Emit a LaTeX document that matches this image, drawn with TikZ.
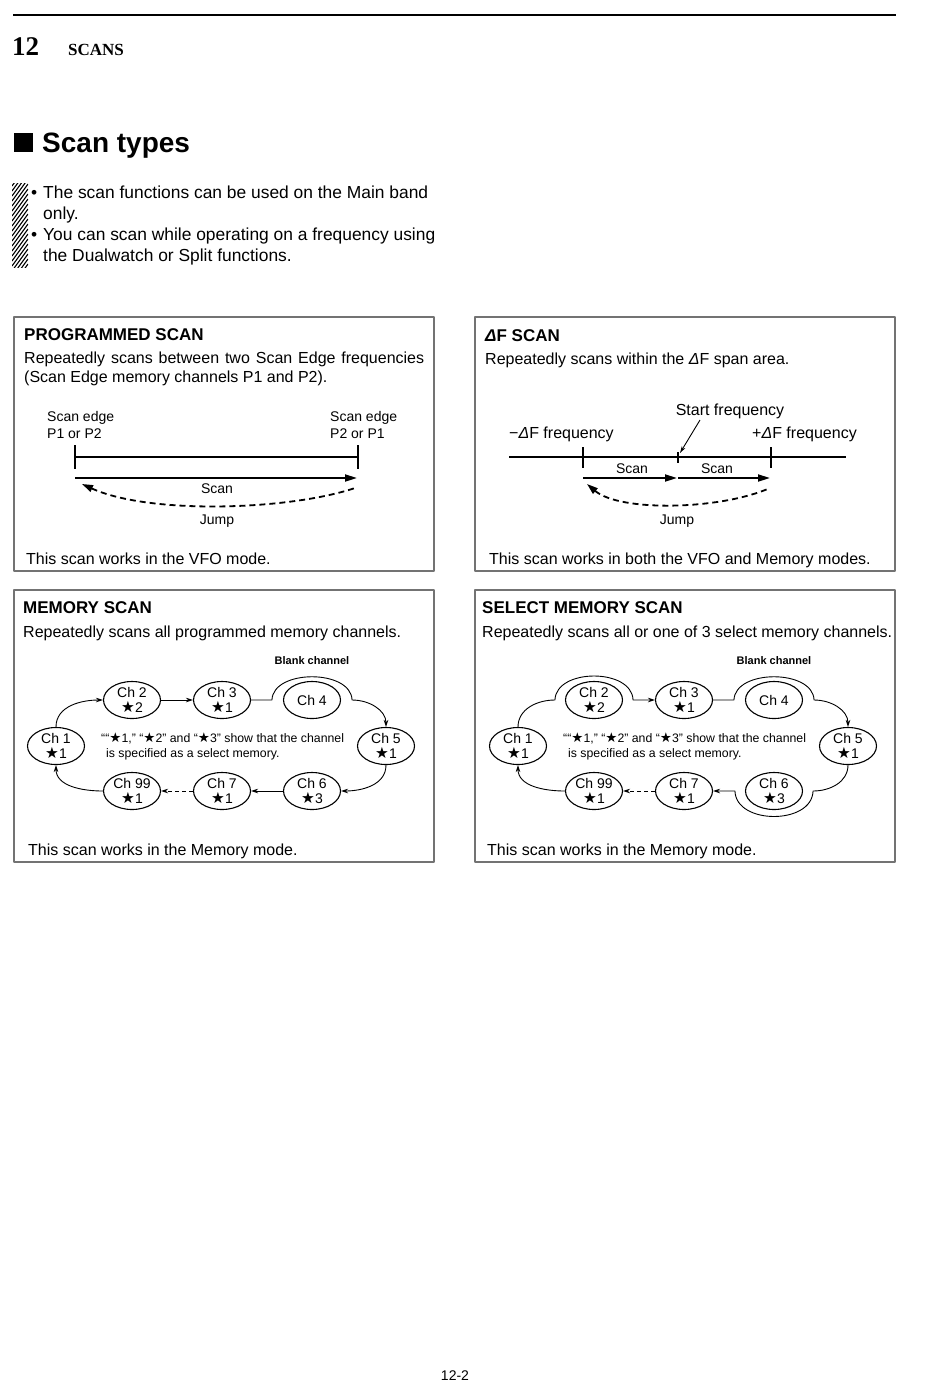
\documentclass[tikz,border=0pt]{standalone}
\usepackage{fontspec}
\setmainfont{Liberation Sans}
\newfontfamily\headserif{Liberation Serif}
\newfontfamily\symfont[Scale=1.1]{DejaVu Sans}
\usetikzlibrary{shapes.geometric,arrows.meta}
\newcommand\stargl{{\symfont ★}}

\begin{document}
\begin{tikzpicture}[x=1pt, y=-1pt, line join=round, >=Stealth]
	\tikzset{panel/.style={draw=black!55, line width=1.2pt},
		title/.style={anchor=base west, inner sep=0pt, font=\fontsize{17}{20}\selectfont\bfseries},
		body/.style={anchor=base west, inner sep=0pt, font=\fontsize{16}{19}\selectfont},
		lbl/.style={inner sep=0pt, font=\fontsize{14}{16}\selectfont},
		biglbl/.style={inner sep=0pt, font=\fontsize{16}{18}\selectfont},
		note/.style={anchor=base west, inner sep=0pt, font=\fontsize{12.3}{14}\selectfont},
		chnode/.style={ellipse, draw, line width=1.1pt, minimum width=57pt, minimum height=37pt, inner sep=0pt},
		chtxt/.style={align=center, inner sep=0pt, font=\fontsize{14}{15}\selectfont},
		link/.style={line width=0.9pt, -{Stealth[length=7pt,width=4.5pt]}},
		scanarrow/.style={line width=1.8pt, -{Triangle[length=12pt,width=7pt]}},
		jumparrow/.style={line width=1.8pt, dash pattern=on 6pt off 4pt, {Triangle[length=11pt,width=7pt]}-}}
	\useasboundingbox (0,0) rectangle (950,1387);

	% page head
	\draw[line width=2pt] (13,15) -- (896,15);
	\node[anchor=base west, inner sep=0pt, font=\headserif\bfseries\fontsize{27}{30}\selectfont] (chap) at (12,55) {12};
	\node[anchor=base west, inner sep=0pt, font=\headserif\bfseries\fontsize{17}{19}\selectfont] (chapname) at (68,55) {SCANS};
	\fill (14,133) rectangle (33,152);
	\node[anchor=base west, inner sep=0pt, font=\fontsize{28}{32}\selectfont\bfseries] (sect) at (42,152) {Scan types};

	% hatched note bar
	\begin{scope}
		\clip (12,183) rectangle (28,267);
		\foreach \k in {0,...,22} \draw[line width=1.1pt] (12,186+\k*5) -- ++(16,-22);
	\end{scope}
	\tikzset{bul/.style={anchor=base west, inner sep=0pt, font=\fontsize{17.4}{21}\selectfont}}
	\node[bul] (b1) at (31,198) {•};
	\node[bul] (t1) at (43,198) {The scan functions can be used on the Main band};
	\node[bul] (t1b) at (43,219) {only.};
	\node[bul] (b2) at (31,240) {•};
	\node[bul] (t2) at (43,240) {You can scan while operating on a frequency using};
	\node[bul] (t2b) at (43,261) {the Dualwatch or Split functions.};

	% panels
	\draw[panel] (14,317) rectangle (434,571);
	\draw[panel] (475,317) rectangle (895,571);
	\draw[panel] (14,590) rectangle (434,862);
	\draw[panel] (475,590) rectangle (895,862);

	% programmed scan
	\node[title] (pgtitle) at (24,340) {PROGRAMMED SCAN};
	\node[body] (pgtext) at (24,363.5) {\makebox[400pt][s]{Repeatedly scans between two Scan Edge frequencies}};
	\node[body] (pgtext2) at (24,382) {(Scan Edge memory channels P1 and P2).};
	\node[lbl, anchor=base west] (edgeA) at (47,421) {Scan edge};
	\node[lbl, anchor=base west] (edgeAp) at (47,438) {P1 or P2};
	\node[lbl, anchor=base west] (edgeB) at (330,421) {Scan edge};
	\node[lbl, anchor=base west] (edgeBp) at (330,438) {P2 or P1};
	\coordinate (pl) at (75,457);
	\coordinate (pr) at (358,457);
	\draw[line width=2pt] (75,445) -- (75,469) (358,445) -- (358,469);
	\draw[line width=2pt] (pl) -- (pr);
	\coordinate (ps1) at (75,478);
	\coordinate (ps2) at (357,478);
	\draw[scanarrow] (ps1) -- (ps2);
	\node[lbl, anchor=base] (pgscan) at (217,493) {Scan};
	\coordinate (pj1) at (82,484);
	\coordinate (pj2) at (355,488);
	\draw[jumparrow] (pj1) .. controls (150,515) and (290,510) .. (pj2);
	\node[lbl, anchor=base] (pgjump) at (217,524) {Jump};
	\node[body] (pgmode) at (26,564) {This scan works in the VFO mode.};

	% delta F scan
	\node[title] (dftitle) at (485,341) {{\itshape Δ}F SCAN};
	\node[body] (dftext) at (485,364) {Repeatedly scans within the {\itshape Δ}F span area.};
	\node[biglbl, anchor=base] (startf) at (730,415) {Start frequency};
	\node[biglbl, anchor=base west] (minusf) at (509,438) {−{\itshape Δ}F frequency};
	\node[biglbl, anchor=base west] (plusf) at (752,438) {+{\itshape Δ}F frequency};
	\coordinate (dl) at (509,457);
	\coordinate (dr) at (846,457);
	\draw[line width=2pt] (dl) -- (dr);
	\draw[line width=2pt] (583,447) -- (583,468) (771,447) -- (771,468);
	\draw[line width=1.6pt] (678,452) -- (678,463);
	\coordinate (sfa) at (700,420);
	\coordinate (sfb) at (680,453);
	\draw[line width=0.9pt, -{Stealth[length=7pt,width=4pt]}] (sfa) -- (sfb);
	\coordinate (ds1) at (583,478);
	\coordinate (ds2) at (678,478);
	\coordinate (ds3) at (770,478);
	\draw[scanarrow] (ds1) -- (677,478);
	\draw[scanarrow] (ds2) -- (ds3);
	\node[lbl, anchor=base] (dfscanA) at (632,473) {Scan};
	\node[lbl, anchor=base] (dfscanB) at (717,473) {Scan};
	\coordinate (dj1) at (587,484);
	\coordinate (dj2) at (770,488);
	\draw[jumparrow] (dj1) .. controls (620,512) and (720,510) .. (dj2);
	\node[lbl, anchor=base] (dfjump) at (677,524) {Jump};
	\node[body] (dfmode) at (489,564) {This scan works in both the VFO and Memory modes.};

	% memory scan and select memory scan
	\node[title] (mtitle) at (23,613) {MEMORY SCAN};
	\node[body] (mtext) at (23,637) {Repeatedly scans all programmed memory channels.};
	\node[body] (mmode) at (28,855) {This scan works in the Memory mode.};
	\node[title] (stitle) at (482,613) {SELECT MEMORY SCAN};
	\node[body] (stext) at (482,637) {Repeatedly scans all or one of 3 select memory channels.};
	\node[body] (smode) at (487,855) {This scan works in the Memory mode.};
	\foreach \p/\dx in {m/0, s/462}{
		\begin{scope}[xshift=\dx pt]
			\node[chnode, label={[chtxt]center:Ch 1\\\stargl1}] (\p1) at (56,746) {};
			\node[chnode, label={[chtxt]center:Ch 2\\\stargl2}] (\p2) at (132,700) {};
			\node[chnode, label={[chtxt]center:Ch 3\\\stargl1}] (\p3) at (222,700) {};
			\node[chnode, label={[chtxt]center:Ch 4}] (\p4) at (312,700) {};
			\node[chnode, label={[chtxt]center:Ch 5\\\stargl1}] (\p5) at (386,746) {};
			\node[chnode, label={[chtxt]center:Ch 6\\\stargl3}] (\p6) at (312,791) {};
			\node[chnode, label={[chtxt]center:Ch 7\\\stargl1}] (\p7) at (222,791) {};
			\node[chnode, label={[chtxt]center:Ch 99\\\stargl1}] (\p99) at (132,791) {};
			\node[anchor=base, inner sep=0pt, font=\fontsize{11}{13}\selectfont\bfseries] (\p blank) at (312,664) {Blank channel};
			\node[note] (\p noteA) at (101,742) {““\stargl1,” “\stargl2” and “\stargl3” show that the channel};
			\node[note] (\p noteB) at (106,757) {is specified as a select memory.};
		\end{scope}
	}
	% memory scan links
	\draw[link] (m1.north) to[out=90,in=180] (m2.west);
	\draw[link] (m2) -- (m3);
	\draw[link] (m3) -- ([xshift=-11pt]m4.west) .. controls +(1,-31) and +(-1,-31) .. ([xshift=11pt]m4.east) to[out=0,in=90] (m5.north);
	\draw[link] (m5.south) to[out=-90,in=0] (m6.east);
	\draw[link] (m6) -- (m7);
	\draw[link, dash pattern=on 4pt off 3pt] (m7) -- (m99);
	\draw[link] (m99.west) to[out=180,in=-90] (m1.south);
	% select memory scan links
	\draw[link] (s1.north) to[out=90,in=180] ([xshift=-10pt]s2.west) .. controls +(1,-32) and +(-1,-32) .. ([xshift=10pt]s2.east) -- (s3);
	\draw[link] (s3) -- ([xshift=-11pt]s4.west) .. controls +(1,-31) and +(-1,-31) .. ([xshift=11pt]s4.east) to[out=0,in=90] (s5.north);
	\draw[link] (s5.south) to[out=-90,in=0] ([xshift=10pt]s6.east) .. controls +(-1,34) and +(1,34) .. ([xshift=-10pt]s6.west) -- (s7);
	\draw[link, dash pattern=on 4pt off 3pt] (s7) -- (s99);
	\draw[link] (s99.west) to[out=180,in=-90] (s1.south);

	\node[lbl, anchor=base] (pageno) at (455,1380) {12-2};
\end{tikzpicture}
\end{document}
